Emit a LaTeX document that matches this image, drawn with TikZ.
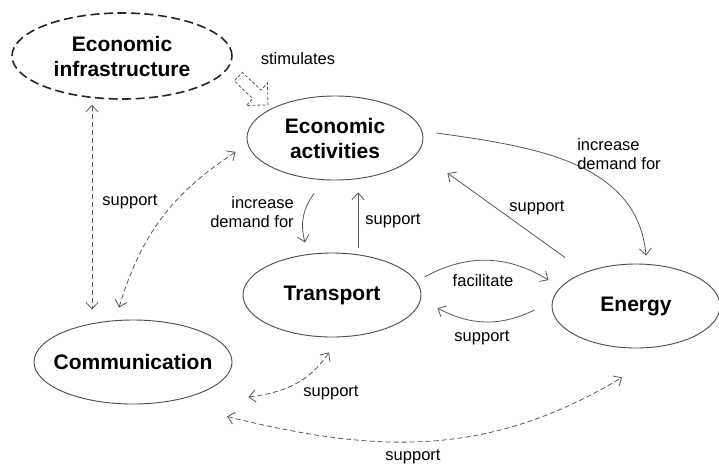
\documentclass[tikz,border=0pt]{standalone}
\usepackage{fontspec}
\setmainfont{Liberation Sans}
\usetikzlibrary{arrows.meta, shapes.geometric, shapes.arrows}

\begin{document}
\begin{tikzpicture}[x=1pt, y=1pt, >={Straight Barb[length=6.5pt,width=12pt]},
		bubble/.style={ellipse, draw=black!70, line width=0.9pt, inner sep=-12pt, align=center, font=\fontsize{21}{25}\selectfont\bfseries},
		lbl/.style={inner sep=0pt, align=center, font=\fontsize{16.5}{19.5}\selectfont},
		link/.style={draw=black!65, line width=0.8pt},
		dlink/.style={link, dash pattern=on 5pt off 3pt}]
		
		\path[fill=white, use as bounding box] (0,0) rectangle (719,-464);
		
		%infra
		\node[bubble, minimum width=220pt, minimum height=86pt, draw=black!85, line width=1.6pt, dash pattern=on 9pt off 4.5pt] (infra) at (122,-56) {Economic\\infrastructure};
		%act
		\node[bubble, minimum width=176pt, minimum height=84pt] (act) at (335,-138) {Economic\\activities};
		%trans
		\node[bubble, minimum width=178pt, minimum height=84pt] (trans) at (332,-295) {Transport};
		%energy
		\node[bubble, minimum width=168pt, minimum height=84pt] (energy) at (636,-306) {Energy};
		%comm
		\node[bubble, minimum width=198pt, minimum height=84pt] (comm) at (133,-362) {Communication};
		%stimulates
		\node[single arrow, draw=black!65, line width=0.8pt, dash pattern=on 3pt off 2pt, minimum height=41pt, inner xsep=0pt, inner ysep=5.5pt, single arrow head extend=9.5pt, single arrow tip angle=90, rotate=-43.5] (stim) at (251,-88.75) {};
		
		% labels
		\node[lbl] (lstim) at (298,-59) {stimulates};
		\node[lbl] (lsup1) at (130,-202) {support};
		\node[lbl, align=right] (ldem1) at (252,-212) {increase\\demand for};
		\node[lbl] (lsup2) at (393,-221) {support};
		\node[lbl] (lfac) at (483,-281) {facilitate};
		\node[lbl] (lsup3) at (482,-338) {support};
		\node[lbl, align=left] (ldem2) at (619,-154) {increase\\demand for};
		\node[lbl] (lsup4) at (537,-208) {support};
		\node[lbl] (lsup5) at (331,-393) {support};
		\node[lbl] (lsup6) at (413,-457) {support};
		
		% infra
		\draw[dlink] ([shift={(-30,-5)}]infra.south) edge[<->] ([shift={(-41,10)}]comm.north);
		
		% act
		\draw[link] ([shift={(-21,-13)}]act.south) edge[->, bend right=25] ([shift={(-27,10)}]trans.north);
		\draw[link] ([shift={(13,5)}]act.east) edge[->, out=-8, in=95] ([shift={(10,8)}]energy.north);
		
		% trans
		\draw[link] ([shift={(26,5)}]trans.north) edge[->] ([shift={(23,-12)}]act.south);
		\draw[link] ([shift={(3,18)}]trans.east) edge[->, bend left=30] ([shift={(-3,26)}]energy.west);
		
		% energy
		\draw[link] ([shift={(-17,-4)}]energy.west) edge[->, bend left=27] ([shift={(16,-13)}]trans.east);
		\draw[link] ([shift={(-71,6)}]energy.north) edge[->] ([shift={(24,-35)}]act.east);
		
		% comm
		\draw[dlink] ([shift={(-14,12)}]comm.north) edge[<->, bend left=20] ([shift={(-11,-14)}]act.west);
		\draw[dlink] ([shift={(16,-35)}]comm.east) edge[<->, out=7, in=236] ([shift={(-3,-15)}]trans.south);
		\draw[dlink] ([shift={(94,-12)}]comm.south) edge[<->, out=-14, in=211] ([shift={(-14,-29)}]energy.south);
		
\end{tikzpicture}
\end{document}
